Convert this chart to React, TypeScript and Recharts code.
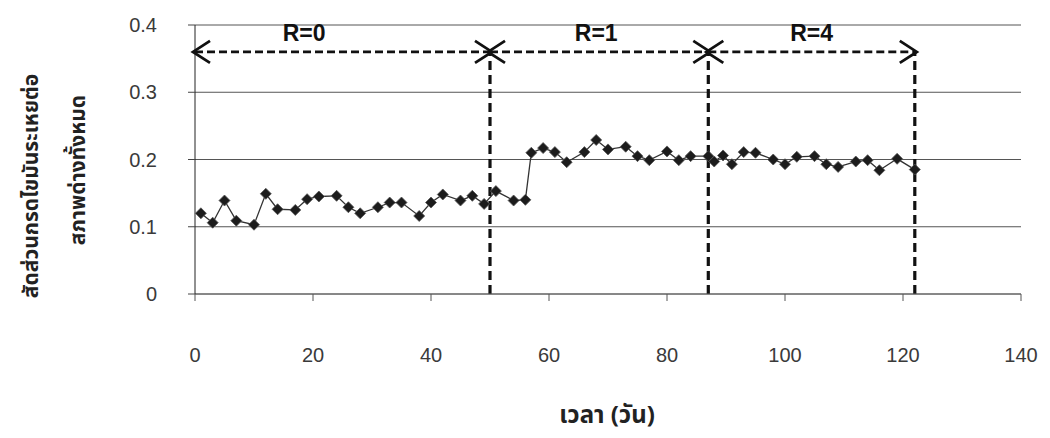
import { LineChart, Line, XAxis, YAxis, CartesianGrid, ReferenceLine, ReferenceDot } from 'recharts'

// sampling day and VFA/alkalinity ratio
const days = [
  1, 3, 5, 7, 10, 12, 14, 17, 19, 21, 24, 26, 28, 31, 33, 35, 38, 40, 42, 45, 47, 49, 51, 54, 56, 57, 59, 61,
  63, 66, 68, 70, 73, 75, 77, 80, 82, 84, 87, 88, 89.5, 91, 93, 95, 98, 100, 102, 105, 107, 109, 112, 114, 116,
  119, 122,
]
const ratios = [
  0.12, 0.106, 0.139, 0.109, 0.103, 0.149, 0.126, 0.125, 0.141, 0.145, 0.146, 0.129, 0.12, 0.129, 0.136, 0.136,
  0.116, 0.136, 0.148, 0.139, 0.146, 0.134, 0.153, 0.139, 0.14, 0.21, 0.217, 0.211, 0.196, 0.211, 0.229, 0.215,
  0.219, 0.205, 0.199, 0.212, 0.199, 0.205, 0.205, 0.197, 0.206, 0.193, 0.211, 0.21, 0.2, 0.193, 0.204, 0.205,
  0.193, 0.189, 0.197, 0.199, 0.184, 0.201, 0.185,
]

const xTicks = [0, 20, 40, 60, 80, 100, 120, 140]
const yTicks = [0, 0.1, 0.2, 0.3, 0.4]

// recycle ratio phases: boundaries on the day axis and their labels
const phaseBounds = [0, 50, 87, 122]
const phaseLabels = ['R=0', 'R=1', 'R=4']
const phaseLabelDays = [18.5, 68, 104.5]
const arrowLevel = 0.36
const labelLevel = 0.388

const xTitle = 'เวลา (วัน)'
const yTitleLines = ['สัดส่วนกรดไขมันระเหยต่อ', 'สภาพด่างทั้งหมด']

const chartData = days.map((d, i) => ({ day: d, ratio: ratios[i] }))

const thaiFont = '"Noto Sans Thai", "Noto Sans Thai UI", Loma, Garuda, "DejaVu Sans", sans-serif'
const tickStyle = { fill: '#3a3a3a', fontSize: 20, fontFamily: '"Liberation Sans", Arial, sans-serif' }

function Diamond(props: any) {
  const { cx, cy } = props
  if (cx == null || cy == null) return null
  const s = 5.5
  return (
    <path
      d={`M${cx},${cy - s} L${cx + s},${cy} L${cx},${cy + s} L${cx - s},${cy} Z`}
      fill='#1c1c1c'
      stroke='#555'
      strokeWidth={0.8}
    />
  )
}

function Chevron(dir: 'left' | 'right') {
  return (props: any) => {
    const { cx, cy } = props
    if (cx == null || cy == null) return <g />
    const k = dir === 'left' ? 1 : -1
    const tip = cx - k * 2
    return (
      <path
        d={`M${tip + k * 17},${cy - 11} L${tip},${cy} L${tip + k * 17},${cy + 11}`}
        fill='none'
        stroke='#111'
        strokeWidth={2.8}
      />
    )
  }
}

function PhaseLabel(text: string) {
  return (props: any) => {
    const { cx, cy } = props
    if (cx == null || cy == null) return <g />
    return (
      <text
        x={cx}
        y={cy}
        textAnchor='middle'
        dominantBaseline='central'
        fontSize={23}
        fontWeight='bold'
        fill='#111'
        fontFamily='"Liberation Sans Narrow", "Liberation Sans", Arial, sans-serif'
      >
        {text}
      </text>
    )
  }
}

export default function App() {
  return (
    <div style={{ position: 'absolute', left: 0, top: 0, width: 1050, height: 438, background: '#fff' }}>
      <LineChart width={1050} height={438} data={chartData} margin={{ top: 25, right: 29, bottom: 44, left: 0 }}>
        <CartesianGrid vertical={false} stroke='#555' strokeWidth={1} />
        <XAxis
          type='number'
          dataKey='day'
          domain={[0, 140]}
          ticks={xTicks}
          height={100}
          tick={tickStyle}
          tickSize={7}
          tickMargin={47}
          axisLine={{ stroke: '#666' }}
          tickLine={{ stroke: '#555' }}
          label={{
            content: () => (
              <text x={607} y={416} textAnchor='middle' dominantBaseline='central' fontSize={24} fontWeight='bold' fill='#222' fontFamily={thaiFont}>
                {xTitle}
              </text>
            ),
          }}
        />
        <YAxis
          type='number'
          domain={[0, 0.4]}
          ticks={yTicks}
          width={195}
          tick={tickStyle}
          tickSize={7}
          tickMargin={31}
          tickFormatter={(v) => String(v)}
          axisLine={{ stroke: '#222' }}
          tickLine={{ stroke: '#444' }}
          label={{
            content: () => (
              <g fontFamily={thaiFont} fontSize={21} fontWeight='bold' fill='#222'>
                <text x={31} y={186} textAnchor='middle' dominantBaseline='central' transform='rotate(-90 31 186)'>
                  {yTitleLines[0]}
                </text>
                <text x={78} y={170} textAnchor='middle' dominantBaseline='central' transform='rotate(-90 78 170)'>
                  {yTitleLines[1]}
                </text>
              </g>
            ),
          }}
        />

        {phaseLabels.map((lab, i) => (
          <ReferenceLine
            key={'seg' + lab}
            segment={[
              { x: phaseBounds[i], y: arrowLevel },
              { x: phaseBounds[i + 1], y: arrowLevel },
            ]}
            stroke='#111'
            strokeWidth={2.6}
            strokeDasharray='8 4'
          />
        ))}
        {phaseBounds.slice(1).map((b) => (
          <ReferenceLine
            key={'v' + b}
            segment={[
              { x: b, y: 0 },
              { x: b, y: arrowLevel },
            ]}
            stroke='#111'
            strokeWidth={3.2}
            strokeDasharray='9 5'
          />
        ))}
        {phaseLabels.map((lab, i) => (
          <ReferenceDot key={'l' + lab} x={phaseBounds[i]} y={arrowLevel} r={0} shape={Chevron('left')} />
        ))}
        {phaseLabels.map((lab, i) => (
          <ReferenceDot key={'r' + lab} x={phaseBounds[i + 1]} y={arrowLevel} r={0} shape={Chevron('right')} />
        ))}
        {phaseLabels.map((lab, i) => (
          <ReferenceDot key={'t' + lab} x={phaseLabelDays[i]} y={labelLevel} r={0} shape={PhaseLabel(lab)} />
        ))}

        <Line
          type='linear'
          dataKey='ratio'
          stroke='#333'
          strokeWidth={1.3}
          dot={<Diamond />}
          activeDot={false}
          isAnimationActive={false}
        />
      </LineChart>
    </div>
  )
}
